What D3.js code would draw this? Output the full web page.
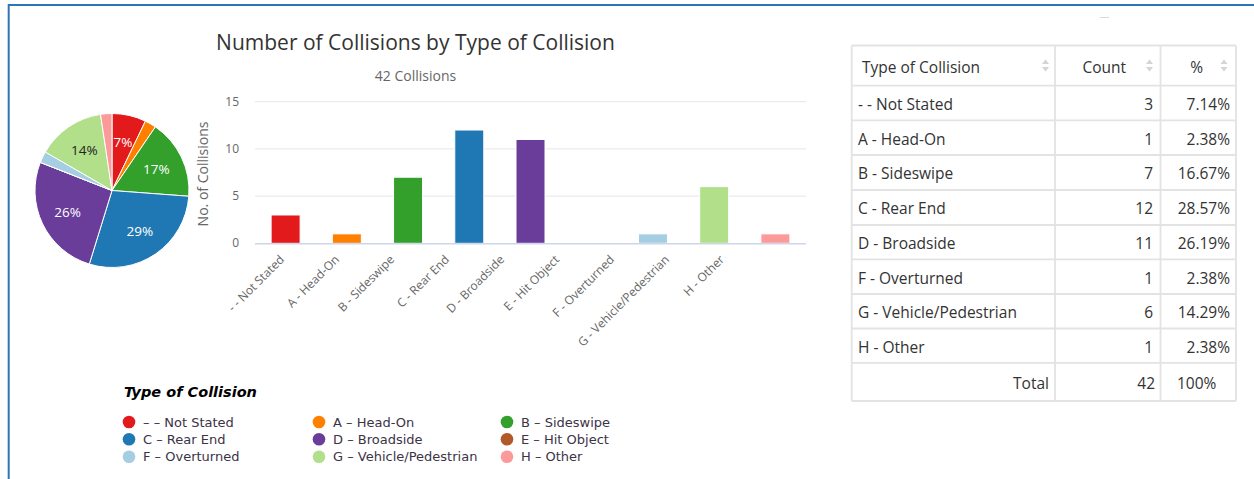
<!DOCTYPE html>
<html>
<head>
<meta charset="utf-8">
<script src="https://cdn.jsdelivr.net/npm/d3@7"></script>
<style>
  html, body { margin: 0; padding: 0; background: #fff; }
  svg { display: block; }
</style>
</head>
<body>
<svg id="chart" width="1254" height="479"></svg>
<script>
// Collision types, counts and colours
const categories = ["- - Not Stated", "A - Head-On", "B - Sideswipe", "C - Rear End", "D - Broadside",
  "E - Hit Object", "F - Overturned", "G - Vehicle/Pedestrian", "H - Other"];
const counts = [3, 1, 7, 12, 11, 0, 1, 6, 1];
const colors = ["#e31a1c", "#ff7f00", "#33a02c", "#1f78b4", "#6a3d9a", "#b15928", "#a6cee3", "#b2df8a", "#fb9a99"];
const yTicks = [0, 5, 10, 15];
const titleText = "Number of Collisions by Type of Collision";
const yAxisTitle = "No. of Collisions";
const legendTitle = "Type of Collision";
const tableHeaders = ["Type of Collision", "Count", "%"];

const total = d3.sum(counts);
const svg = d3.select("#chart");
const chartFont = "'Open Sans', 'Noto Sans', sans-serif";
const legendFont = "'DejaVu Sans', Verdana, sans-serif";

// Page frame
svg.append("line").attr("x1", 8).attr("x2", 1254).attr("y1", 5).attr("y2", 5)
  .attr("stroke", "#2e75b6").attr("stroke-width", 2);
svg.append("line").attr("x1", 8.7).attr("x2", 8.7).attr("y1", 4).attr("y2", 479)
  .attr("stroke", "#2e75b6").attr("stroke-width", 2);
svg.append("line").attr("x1", 1100).attr("x2", 1109).attr("y1", 17.5).attr("y2", 17.5)
  .attr("stroke", "#c9dcec").attr("stroke-width", 1);

// ---- Pie ----
const pieData = categories.map((c, i) => ({ cat: c, value: counts[i], color: colors[i] }));
const pie = d3.pie().sort(null).value(d => d.value);
const pieR = 77;
const arc = d3.arc().innerRadius(0).outerRadius(pieR);
const labelArc = d3.arc().innerRadius(pieR * 0.64).outerRadius(pieR * 0.64);
const pieG = svg.append("g").attr("transform", "translate(112,190.5)");
const arcs = pie(pieData);
pieG.selectAll("path").data(arcs).join("path")
  .attr("d", arc).attr("fill", d => d.data.color)
  .attr("stroke", "#fff").attr("stroke-width", 1);
pieG.selectAll("text").data(arcs.filter(d => d.data.value / total >= 0.05)).join("text")
  .attr("transform", d => `translate(${labelArc.centroid(d)})`)
  .attr("text-anchor", "middle").attr("dy", "0.35em")
  .attr("font-family", chartFont).attr("font-size", 13.5)
  .attr("fill", d => d.data.color === "#b2df8a" ? "#222" : "#fff")
  .text(d => Math.round(d.data.value / total * 100) + "%");

// ---- Bar chart ----
const plot = { left: 255, right: 806, top: 101.7, bottom: 243.3 };
const x = d3.scaleBand().domain(categories).range([plot.left, plot.right]).paddingInner(0).paddingOuter(0);
const y = d3.scaleLinear().domain([0, 15]).range([plot.bottom, plot.top]);
const barW = 29;

svg.append("text").attr("x", 415.5).attr("y", 50).attr("text-anchor", "middle")
  .attr("font-family", chartFont).attr("font-size", 21).attr("fill", "#333").text(titleText);
svg.append("text").attr("x", 415.5).attr("y", 81).attr("text-anchor", "middle")
  .attr("font-family", chartFont).attr("font-size", 14).attr("fill", "#666").text(total + " Collisions");

// grid
svg.append("g").selectAll("line").data(yTicks.filter(t => t > 0)).join("line")
  .attr("x1", plot.left).attr("x2", plot.right)
  .attr("y1", d => y(d)).attr("y2", d => y(d))
  .attr("stroke", "#e6e6e6").attr("stroke-width", 1);

// y axis labels
const yAxis = d3.axisLeft(y).tickValues(yTicks).tickSize(0).tickPadding(0);
const yG = svg.append("g").attr("transform", "translate(239,-0.5)").call(yAxis);
yG.select(".domain").remove();
yG.selectAll("text").attr("font-family", chartFont).attr("font-size", 12).attr("fill", "#666");

svg.append("text").attr("transform", "translate(208,174) rotate(-90)")
  .attr("text-anchor", "middle").attr("font-family", chartFont).attr("font-size", 14)
  .attr("fill", "#666").text(yAxisTitle);

// bars
svg.append("g").selectAll("rect").data(pieData.filter(d => d.value > 0)).join("rect")
  .attr("x", d => x(d.cat) + x.bandwidth() / 2 - barW / 2)
  .attr("width", barW)
  .attr("y", d => y(d.value))
  .attr("height", d => y(0) - y(d.value))
  .attr("fill", d => d.color).attr("stroke", "#fff").attr("stroke-width", 1);

// baseline
svg.append("line").attr("x1", plot.left).attr("x2", plot.right)
  .attr("y1", plot.bottom + 0.5).attr("y2", plot.bottom + 0.5)
  .attr("stroke", "#ccd6eb").attr("stroke-width", 1.5);

// category labels (rotated)
const xLabel = d3.scalePoint().domain(categories).range([plot.left + 30, plot.left + 470]);
svg.append("g").selectAll("text").data(categories).join("text")
  .attr("transform", d => `translate(${xLabel(d)},${plot.bottom + 17}) rotate(-45)`)
  .attr("text-anchor", "end")
  .attr("font-family", chartFont).attr("font-size", 12).attr("fill", "#666")
  .text(d => d);

// ---- Legend ----
svg.append("text").attr("x", 124).attr("y", 397)
  .attr("font-family", legendFont).attr("font-size", 14.5).attr("font-weight", "bold")
  .attr("font-style", "italic").attr("fill", "#000").text(legendTitle);
const legendCols = [129, 319, 507];
const legendRows = [422, 439.3, 456.8];
const lg = svg.append("g").selectAll("g").data(pieData).join("g")
  .attr("transform", (d, i) => `translate(${legendCols[i % 3]},${legendRows[Math.floor(i / 3)]})`);
lg.append("circle").attr("r", 6.3).attr("fill", d => d.color);
lg.append("text").attr("x", 14).attr("dy", "0.35em")
  .attr("font-family", legendFont).attr("font-size", 13).attr("fill", "#3b3346")
  .text(d => d.cat.replace(/-/g, "\u2013").replace("Head\u2013On", "Head-On"));

// ---- Table ----
const colX = [851.7, 1055, 1160.5, 1236];
const rowY = [45.5, 85.7, 120.3, 155, 190, 225, 259.3, 294, 328.5, 362.8, 401];
const tableRows = pieData.filter(d => d.value > 0);
const fmtPct = v => d3.format(".2f")(v / total * 100) + "%";
const tbl = svg.append("g");
const border = "#e3e3e3";
rowY.forEach(yy => tbl.append("line").attr("x1", colX[0]).attr("x2", colX[3])
  .attr("y1", yy).attr("y2", yy).attr("stroke", border).attr("stroke-width", 1.8));
colX.forEach(xx => tbl.append("line").attr("x1", xx).attr("x2", xx)
  .attr("y1", rowY[0]).attr("y2", rowY[rowY.length - 1]).attr("stroke", border).attr("stroke-width", 1.8));

function cell(txt, xx, yy, anchor) {
  tbl.append("text").attr("x", xx).attr("y", yy + 1.5).attr("text-anchor", anchor || "start")
    .attr("font-family", chartFont).attr("font-size", 15.5).attr("fill", "#333")
    .attr("dy", "0.35em").text(txt);
}
// header
const hy = (rowY[0] + rowY[1]) / 2;
cell(tableHeaders[0], 862, hy);
cell(tableHeaders[1], 1126, hy, "end");
cell(tableHeaders[2], 1203, hy, "end");
[1045.5, 1149.5, 1224].forEach(sx => {
  tbl.append("path").attr("d", `M${sx - 3.5},${hy - 1.5} L${sx},${hy - 6} L${sx + 3.5},${hy - 1.5} Z`).attr("fill", "#d4d4d4");
  tbl.append("path").attr("d", `M${sx - 3.5},${hy + 1.5} L${sx},${hy + 6} L${sx + 3.5},${hy + 1.5} Z`).attr("fill", "#d4d4d4");
});
tableRows.forEach((d, i) => {
  const cy = (rowY[i + 1] + rowY[i + 2]) / 2;
  cell(d.cat, 858, cy);
  cell(d.value, 1153, cy, "end");
  cell(fmtPct(d.value), 1230, cy, "end");
});
const ty = (rowY[9] + rowY[10]) / 2;
cell("Total", 1049, ty, "end");
cell(total, 1155, ty, "end");
cell("100%", 1177, ty);
</script>
</body>
</html>
